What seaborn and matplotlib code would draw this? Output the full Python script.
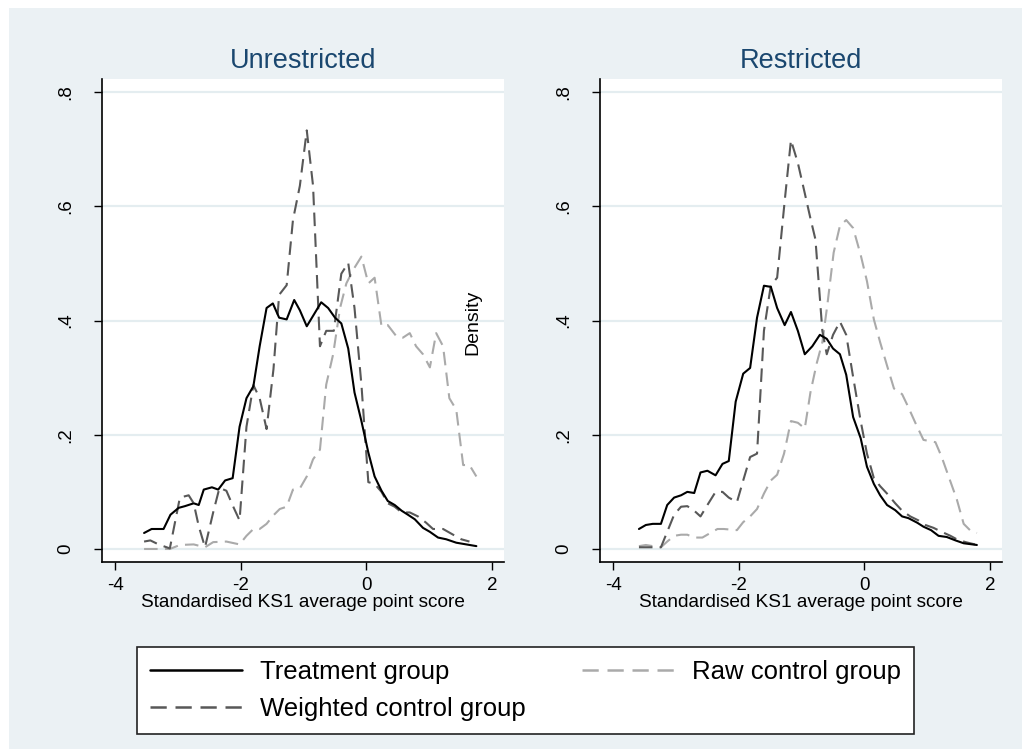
import numpy as np
import pandas as pd
import matplotlib
matplotlib.use("Agg")
import matplotlib.pyplot as plt
import seaborn as sns
from matplotlib.lines import Line2D
from matplotlib.patches import Rectangle

# ---- data (x = standardised score, y = density) ----
# Unrestricted panel
unr_treat_x = [-3.54, -3.42, -3.23, -3.12, -2.99, -2.89, -2.75, -2.67, -2.59, -2.46, -2.36, -2.25, -2.13, -2.02,
               -1.91, -1.80, -1.70, -1.59, -1.49, -1.39, -1.27, -1.15, -1.06, -0.95, -0.84, -0.72, -0.61, -0.50,
               -0.40, -0.29, -0.19, -0.08, 0.03, 0.13, 0.24, 0.34, 0.45, 0.56, 0.66, 0.77, 0.90, 1.01, 1.14,
               1.27, 1.43, 1.59, 1.75]
unr_treat_y = [0.028, 0.035, 0.035, 0.060, 0.072, 0.075, 0.080, 0.077, 0.104, 0.108, 0.104, 0.120, 0.124, 0.214,
               0.264, 0.285, 0.355, 0.422, 0.430, 0.405, 0.402, 0.436, 0.418, 0.390, 0.410, 0.432, 0.422, 0.405,
               0.395, 0.351, 0.274, 0.224, 0.169, 0.127, 0.102, 0.084, 0.077, 0.067, 0.060, 0.052, 0.037, 0.030,
               0.020, 0.017, 0.011, 0.008, 0.005]

unr_wctrl_x = [-3.54, -3.44, -3.31, -3.13, -2.97, -2.83, -2.75, -2.67, -2.57, -2.44, -2.34, -2.23, -2.12, -2.02,
               -1.91, -1.80, -1.70, -1.59, -1.48, -1.39, -1.27, -1.17, -1.06, -0.95, -0.85, -0.74, -0.64, -0.52,
               -0.40, -0.29, -0.19, -0.08, 0.03, 0.13, 0.24, 0.34, 0.45, 0.56, 0.69, 0.82, 0.95, 1.06, 1.22,
               1.38, 1.51, 1.64]
unr_wctrl_y = [0.013, 0.015, 0.008, 0.001, 0.090, 0.094, 0.080, 0.040, 0.003, 0.064, 0.107, 0.102, 0.074, 0.050,
               0.214, 0.287, 0.264, 0.210, 0.315, 0.445, 0.462, 0.576, 0.636, 0.733, 0.636, 0.355, 0.382, 0.382,
               0.482, 0.501, 0.422, 0.288, 0.117, 0.114, 0.100, 0.080, 0.074, 0.064, 0.064, 0.057, 0.046, 0.035,
               0.035, 0.025, 0.017, 0.013]

unr_raw_x = [-3.54, -3.31, -3.13, -2.97, -2.75, -2.57, -2.44, -2.23, -2.02, -1.91, -1.80, -1.70, -1.59, -1.48,
             -1.38, -1.27, -1.17, -1.06, -0.95, -0.85, -0.74, -0.64, -0.53, -0.42, -0.32, -0.21, -0.08, 0.03,
             0.13, 0.24, 0.34, 0.48, 0.58, 0.69, 0.79, 0.90, 1.01, 1.11, 1.22, 1.32, 1.43, 1.54, 1.64, 1.75]
unr_raw_y = [0.000, 0.000, 0.000, 0.007, 0.008, 0.003, 0.012, 0.013, 0.008, 0.023, 0.035, 0.035, 0.044, 0.059,
             0.070, 0.074, 0.104, 0.106, 0.127, 0.157, 0.174, 0.288, 0.341, 0.422, 0.465, 0.489, 0.512, 0.465,
             0.475, 0.390, 0.392, 0.372, 0.370, 0.378, 0.355, 0.341, 0.318, 0.378, 0.355, 0.264, 0.244, 0.147,
             0.147, 0.127]

# Restricted panel
res_treat_x = [-3.59, -3.48, -3.37, -3.24, -3.14, -3.03, -2.92, -2.82, -2.71, -2.61, -2.50, -2.37, -2.26, -2.16,
               -2.05, -1.93, -1.82, -1.71, -1.60, -1.49, -1.39, -1.27, -1.17, -1.06, -0.95, -0.83, -0.71, -0.60,
               -0.50, -0.39, -0.29, -0.18, -0.06, 0.04, 0.15, 0.25, 0.36, 0.49, 0.60, 0.70, 0.84, 0.94, 1.06,
               1.18, 1.31, 1.45, 1.58, 1.79]
res_treat_y = [0.035, 0.042, 0.044, 0.044, 0.077, 0.090, 0.094, 0.100, 0.098, 0.134, 0.137, 0.129, 0.149, 0.154,
               0.258, 0.307, 0.317, 0.405, 0.461, 0.459, 0.422, 0.392, 0.415, 0.382, 0.341, 0.355, 0.375, 0.368,
               0.351, 0.341, 0.305, 0.231, 0.194, 0.144, 0.114, 0.094, 0.077, 0.068, 0.057, 0.054, 0.046, 0.039,
               0.033, 0.023, 0.021, 0.015, 0.010, 0.007]

res_wctrl_x = [-3.59, -3.37, -3.24, -3.14, -3.03, -2.92, -2.82, -2.71, -2.61, -2.50, -2.37, -2.26, -2.16, -2.03,
               -1.93, -1.82, -1.71, -1.60, -1.49, -1.39, -1.27, -1.17, -1.06, -0.95, -0.86, -0.78, -0.67, -0.60,
               -0.50, -0.39, -0.29, -0.18, -0.06, 0.04, 0.15, 0.25, 0.36, 0.49, 0.60, 0.73, 0.86, 0.97, 1.10,
               1.23, 1.37, 1.47, 1.61, 1.76]
res_wctrl_y = [0.003, 0.003, 0.003, 0.030, 0.060, 0.074, 0.075, 0.067, 0.057, 0.077, 0.100, 0.100, 0.090, 0.082,
               0.120, 0.161, 0.167, 0.382, 0.462, 0.475, 0.609, 0.716, 0.676, 0.623, 0.579, 0.542, 0.382, 0.341,
               0.375, 0.398, 0.375, 0.301, 0.224, 0.167, 0.124, 0.110, 0.097, 0.080, 0.067, 0.057, 0.050, 0.042,
               0.037, 0.030, 0.023, 0.017, 0.012, 0.008]

res_raw_x = [-3.59, -3.48, -3.37, -3.24, -3.14, -3.03, -2.92, -2.82, -2.71, -2.58, -2.47, -2.34, -2.24, -2.03,
             -1.93, -1.82, -1.71, -1.60, -1.49, -1.39, -1.28, -1.17, -1.06, -0.95, -0.86, -0.76, -0.67, -0.59,
             -0.49, -0.39, -0.29, -0.18, -0.06, 0.04, 0.15, 0.25, 0.36, 0.47, 0.60, 0.70, 0.81, 0.94, 1.13,
             1.23, 1.34, 1.47, 1.58, 1.68, 1.79]
res_raw_y = [0.005, 0.007, 0.005, 0.003, 0.013, 0.023, 0.025, 0.025, 0.020, 0.020, 0.027, 0.035, 0.035, 0.033,
             0.047, 0.057, 0.070, 0.097, 0.120, 0.130, 0.167, 0.224, 0.221, 0.211, 0.274, 0.325, 0.362, 0.428,
             0.519, 0.566, 0.576, 0.562, 0.515, 0.469, 0.402, 0.362, 0.321, 0.281, 0.271, 0.248, 0.221, 0.191,
             0.187, 0.161, 0.127, 0.087, 0.044, 0.033, 0.028]

panel_titles = ["Unrestricted", "Restricted"]
series_labels = ["Treatment group", "Weighted control group", "Raw control group"]
y_ticks = [0, 0.2, 0.4, 0.6, 0.8]
y_tick_labels = ["0", ".2", ".4", ".6", ".8"]
x_ticks = [-4, -2, 0, 2]

# ---- styling ----
BG = "#ebf1f4"
GRID = "#e4edf0"
TITLE_COL = "#1a476f"
styles = {
    "Treatment group": dict(color="black", linestyle="-"),
    "Weighted control group": dict(color="#585858", linestyle=(0, (6.5, 3.5))),
    "Raw control group": dict(color="#aaaaaa", linestyle=(0, (6.5, 3.5))),
}

sns.set_theme(style="white")
plt.rcParams["font.family"] = ["Liberation Sans", "DejaVu Sans"]

W, H = 1022, 749
fig = plt.figure(figsize=(W / 100, H / 100), dpi=100)
fig.patch.set_facecolor("white")
fig.patches.append(Rectangle((9 / W, 0), 1, 1 - 8 / H, transform=fig.transFigure,
                             facecolor=BG, edgecolor="none", zorder=-10))

panels = [
    (panel_titles[0], [(unr_treat_x, unr_treat_y), (unr_wctrl_x, unr_wctrl_y), (unr_raw_x, unr_raw_y)], 102),
    (panel_titles[1], [(res_treat_x, res_treat_y), (res_wctrl_x, res_wctrl_y), (res_raw_x, res_raw_y)], 600),
]

ax_top, ax_bot = 79, 562
for title, series, left_px in panels:
    ax = fig.add_axes([left_px / W, (H - ax_bot) / H, 402 / W, (ax_bot - ax_top) / H])
    ax.set_facecolor("white")
    for ytk in y_ticks:
        ax.axhline(ytk, color=GRID, lw=1.6, zorder=0)
    # raw first, then weighted, then treatment on top
    for (xs, ys), lab in reversed(list(zip(series, series_labels))):
        df = pd.DataFrame({"x": xs, "y": ys})
        sns.lineplot(data=df, x="x", y="y", ax=ax, sort=False, estimator=None,
                     lw=1.5, **styles[lab])
    ax.set_xlim(-4.21, 2.19)
    ax.set_ylim(-0.0228, 0.823)
    ax.set_xticks(x_ticks)
    ax.set_xticklabels([str(v) for v in x_ticks])
    ax.set_yticks(y_ticks)
    ax.set_yticklabels(y_tick_labels, rotation=90, va="center")
    ax.tick_params(axis="both", direction="out", length=6, width=1, color="black",
                   labelsize=13.5, labelcolor="black", left=True, bottom=True)
    ax.tick_params(axis="x", pad=5)
    ax.tick_params(axis="y", pad=14)
    for side in ["top", "right"]:
        ax.spines[side].set_visible(False)
    for side in ["left", "bottom"]:
        ax.spines[side].set_color("black")
        ax.spines[side].set_linewidth(1.2)
    ax.set_xlabel("Standardised KS1 average point score", fontsize=13.7, color="black", labelpad=0)
    ax.set_ylabel("")
    ax.set_title(title, fontsize=19.5, color=TITLE_COL, pad=8)

# Stata puts the y title inside the first panel
fig.text(473 / W, 1 - 322 / H, "Density", rotation=90, ha="center", va="center",
         fontsize=14, color="black")

handles = [Line2D([], [], lw=1.8, **styles[lab]) for lab in series_labels]
leg = fig.legend(handles, series_labels, loc="upper left", ncol=2, mode="expand",
                 bbox_to_anchor=(137 / W, 1 - 731 / H, (914 - 137) / W, (731 - 647) / H),
                 bbox_transform=fig.transFigure,
                 frameon=True, fancybox=False, framealpha=1, fontsize=18.5, labelcolor="black",
                 handlelength=3.6, handletextpad=0.7, columnspacing=1.7, borderpad=0.5,
                 labelspacing=0.5, borderaxespad=0)
leg.get_frame().set_edgecolor("#222222")
leg.get_frame().set_linewidth(1.2)
leg.get_frame().set_facecolor("white")

fig.savefig("out.png", dpi=100, facecolor=fig.get_facecolor())
